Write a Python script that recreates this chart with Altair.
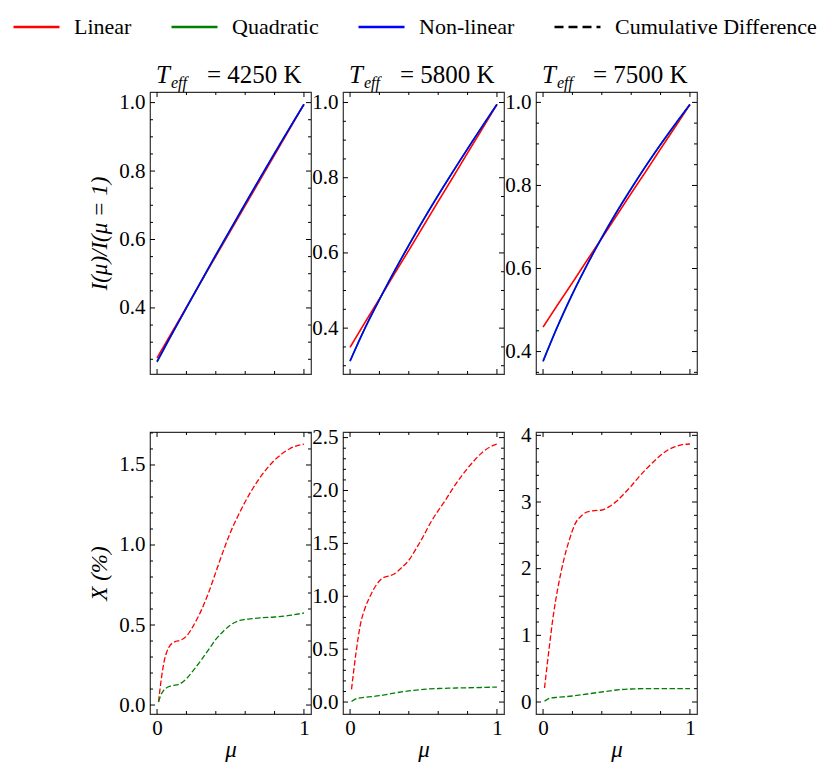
import altair as alt
import pandas as pd

FONT = "Liberation Serif"

SERIES = ["Linear", "Quadratic", "Non-linear", "Cumulative Difference"]
COLORS = ["#ff0000", "#008000", "#0000ff", "#000000"]
DASHES = [[1, 0], [1, 0], [1, 0], [9, 5]]
TEFF = ["4250", "5800", "7500"]

# ---- top row: normalised intensity profiles ----
MU_TOP = [0.0, 0.1, 0.2, 0.3, 0.4, 0.5, 0.6, 0.7, 0.8, 0.9, 1.0]
LIN_4250 = [0.254, 0.328, 0.402, 0.477, 0.551, 0.625, 0.699, 0.773, 0.847, 0.921, 0.995]
QUA_4250 = [0.242, 0.322, 0.400, 0.477, 0.554, 0.629, 0.704, 0.778, 0.852, 0.924, 0.995]
NL_4250 = [0.244, 0.323, 0.401, 0.478, 0.555, 0.630, 0.705, 0.779, 0.852, 0.924, 0.995]

LIN_5800 = [0.349, 0.414, 0.478, 0.543, 0.607, 0.672, 0.737, 0.801, 0.866, 0.930, 0.995]
QUA_5800 = [0.313, 0.398, 0.476, 0.550, 0.621, 0.689, 0.754, 0.816, 0.877, 0.936, 0.995]
NL_5800 = [0.312, 0.399, 0.476, 0.550, 0.620, 0.688, 0.753, 0.816, 0.877, 0.937, 0.995]

LIN_7500 = [0.459, 0.513, 0.566, 0.620, 0.673, 0.727, 0.781, 0.834, 0.888, 0.941, 0.995]
QUA_7500 = [0.378, 0.461, 0.538, 0.609, 0.675, 0.736, 0.793, 0.847, 0.898, 0.947, 0.995]
NL_7500 = [0.376, 0.462, 0.539, 0.609, 0.674, 0.735, 0.792, 0.847, 0.899, 0.948, 0.995]

# ---- bottom row: cumulative differences (%) ----
MU_CDL = [0.01, 0.03, 0.05, 0.08, 0.12, 0.16, 0.2, 0.25, 0.3, 0.35, 0.4, 0.45,
          0.5, 0.55, 0.6, 0.65, 0.7, 0.75, 0.8, 0.85, 0.9, 0.95, 1.0]
CDL_4250 = [0.02, 0.17, 0.28, 0.36, 0.395, 0.405, 0.43, 0.50, 0.59, 0.70, 0.83, 0.96,
            1.08, 1.18, 1.27, 1.35, 1.42, 1.48, 1.53, 1.57, 1.60, 1.62, 1.63]
MU_CDQ_4250 = [0.01, 0.03, 0.06, 0.1, 0.15, 0.2, 0.25, 0.3, 0.35, 0.4, 0.45, 0.5,
               0.55, 0.6, 0.65, 0.7, 0.8, 0.9, 1.0]
CDQ_4250 = [0.02, 0.07, 0.105, 0.12, 0.13, 0.165, 0.22, 0.28, 0.345, 0.41, 0.46, 0.50,
            0.525, 0.535, 0.54, 0.545, 0.55, 0.56, 0.575]

MU_CDL2 = [0.01, 0.04, 0.07, 0.1, 0.14, 0.18, 0.22, 0.26, 0.3, 0.35, 0.4, 0.45,
           0.5, 0.55, 0.6, 0.65, 0.7, 0.75, 0.8, 0.85, 0.9, 0.95, 1.0]
CDL_5800 = [0.12, 0.46, 0.73, 0.88, 1.01, 1.11, 1.17, 1.19, 1.21, 1.27, 1.34, 1.45,
            1.57, 1.70, 1.81, 1.91, 2.02, 2.12, 2.21, 2.29, 2.36, 2.41, 2.44]
CDL_7500 = [0.21, 0.78, 1.30, 1.70, 2.12, 2.44, 2.68, 2.79, 2.85, 2.87, 2.88, 2.93,
            3.01, 3.12, 3.24, 3.37, 3.49, 3.60, 3.70, 3.78, 3.83, 3.86, 3.87]
MU_CDQ = [0.01, 0.05, 0.1, 0.2, 0.3, 0.4, 0.5, 0.6, 0.7, 0.8, 0.9, 1.0]
CDQ_5800 = [0.005, 0.035, 0.045, 0.06, 0.085, 0.105, 0.12, 0.128, 0.132, 0.135, 0.138, 0.142]
CDQ_7500 = [0.01, 0.06, 0.07, 0.09, 0.12, 0.15, 0.18, 0.195, 0.2, 0.2, 0.2, 0.2]

# axis ticks
X_MAJOR = [0, 1]
X_MINOR = [0.2, 0.4, 0.6, 0.8]
TOP_Y_MAJOR = [0.4, 0.6, 0.8, 1.0]
TOP_Y_MINOR = [0.25, 0.3, 0.35, 0.45, 0.5, 0.55, 0.65, 0.7, 0.75, 0.85, 0.9, 0.95]
B1_Y_MAJOR = [0.0, 0.5, 1.0, 1.5]
B1_Y_MINOR = [0.1, 0.2, 0.3, 0.4, 0.6, 0.7, 0.8, 0.9, 1.1, 1.2, 1.3, 1.4, 1.6, 1.7]
B2_Y_MAJOR = [0.0, 0.5, 1.0, 1.5, 2.0, 2.5]
B2_Y_MINOR = [0.1, 0.2, 0.3, 0.4, 0.6, 0.7, 0.8, 0.9, 1.1, 1.2, 1.3, 1.4,
              1.6, 1.7, 1.8, 1.9, 2.1, 2.2, 2.3, 2.4]
B3_Y_MAJOR = [0, 1, 2, 3, 4]
B3_Y_MINOR = [0.2, 0.4, 0.6, 0.8, 1.2, 1.4, 1.6, 1.8, 2.2, 2.4, 2.6, 2.8, 3.2, 3.4, 3.6, 3.8]

X_DOMAIN = [-0.048, 1.048]
TOP_DOMAINS = [[0.207, 1.031], [0.278, 1.028], [0.346, 1.025]]
BOT_DOMAINS = [[-0.056, 1.706], [-0.113, 2.553], [-0.18, 4.05]]

W, H = 161, 282

LEGEND = alt.Legend(
    orient="none", legendX=-138, legendY=-76, direction="horizontal", title=None,
    symbolType="stroke", symbolSize=2116, symbolStrokeWidth=2.5, clipHeight=22,
    labelFont=FONT, labelFontSize=22, labelOffset=13, columnPadding=38,
    padding=0, labelLimit=400, labelColor="black",
)
COLOR = alt.Color("series:N", scale=alt.Scale(domain=SERIES, range=COLORS), legend=LEGEND)
DASH = alt.StrokeDash("series:N", scale=alt.Scale(domain=SERIES, range=DASHES), legend=LEGEND)

AX = dict(labelFont=FONT, labelFontSize=21, labelColor="black", ticks=False, tickSize=0,
          domain=False, grid=False, titleFont=FONT, titleFontSize=23,
          titleFontStyle="italic", titleFontWeight="normal", titleColor="black",
          labelFlush=False)


def inside(vals, dom):
    return [v for v in vals if dom[0] <= v <= dom[1]]


def tick_layers(xsc, ysc, xax, yax, ydom, ymaj, ymin):
    layers = []
    for vals, L in ((inside(ymaj, ydom), 5), (inside(ymin, ydom), 3)):
        c = alt.Chart(alt.Data(values=[{"val": v} for v in vals]))
        y = alt.Y("val:Q", scale=ysc, axis=yax)
        layers.append(c.mark_rule(color="black", strokeWidth=1).encode(
            y=y, x=alt.value(0), x2=alt.value(L)))
        layers.append(c.mark_rule(color="black", strokeWidth=1).encode(
            y=y, x=alt.value(W), x2=alt.value(W - L)))
    for vals, L in ((X_MAJOR, 5), (X_MINOR, 3)):
        c = alt.Chart(alt.Data(values=[{"mu": v} for v in vals]))
        x = alt.X("mu:Q", scale=xsc, axis=xax)
        layers.append(c.mark_rule(color="black", strokeWidth=1).encode(
            x=x, y=alt.value(H), y2=alt.value(H - L)))
        layers.append(c.mark_rule(color="black", strokeWidth=1).encode(
            x=x, y=alt.value(0), y2=alt.value(L)))
    return layers


def title_layers(teff):
    parts = [("T", 25, "italic", 6, -9), ("eff", 16, "italic", 21, -4),
             ("= " + teff + " K", 25, "normal", 57, -9)]
    out = []
    for txt, fs, st, px, py in parts:
        out.append(alt.Chart(alt.Data(values=[{"t": txt}])).mark_text(
            font=FONT, fontSize=fs, fontStyle=st, align="left", baseline="alphabetic",
            color="black").encode(x=alt.value(px), y=alt.value(py), text="t:N"))
    return out


def top_panel(i, lin, qua, nl):
    rows = []
    for name, vals in (("Linear", lin), ("Quadratic", qua), ("Non-linear", nl)):
        rows += [{"mu": m, "val": v, "series": name} for m, v in zip(MU_TOP, vals)]
    df = pd.DataFrame(rows)
    xsc = alt.Scale(domain=X_DOMAIN, nice=False, zero=False)
    ysc = alt.Scale(domain=TOP_DOMAINS[i], nice=False, zero=False)
    yax = alt.Axis(values=TOP_Y_MAJOR, format=".1f", labelPadding=5,
                   title="I(μ)/I(μ = 1)" if i == 0 else None, titlePadding=7, **AX)
    layers = []
    for s in ["Linear", "Quadratic", "Non-linear"]:
        layers.append(alt.Chart(df).transform_filter(alt.datum.series == s)
                      .mark_line(strokeWidth=1.6, interpolate="monotone")
                      .encode(x=alt.X("mu:Q", scale=xsc, axis=None),
                              y=alt.Y("val:Q", scale=ysc, axis=yax),
                              color=COLOR, strokeDash=DASH))
    layers += tick_layers(xsc, ysc, None, yax, TOP_DOMAINS[i], TOP_Y_MAJOR, TOP_Y_MINOR)
    layers += title_layers(TEFF[i])
    return alt.layer(*layers).properties(width=W, height=H)


def bot_panel(i, mul, cdl, muq, cdq, ymaj, ymin, fmt):
    rows = [{"mu": m, "val": v, "series": "Linear"} for m, v in zip(mul, cdl)]
    rows += [{"mu": m, "val": v, "series": "Quadratic"} for m, v in zip(muq, cdq)]
    df = pd.DataFrame(rows)
    xsc = alt.Scale(domain=X_DOMAIN, nice=False, zero=False)
    ysc = alt.Scale(domain=BOT_DOMAINS[i], nice=False, zero=False)
    yax = alt.Axis(values=ymaj, format=fmt, labelPadding=5,
                   title="X (%)" if i == 0 else None, titlePadding=7, **AX)
    xax = alt.Axis(values=X_MAJOR, format="d", labelPadding=3, title="μ", titlePadding=0, **AX)
    layers = []
    for s in ["Linear", "Quadratic"]:
        layers.append(alt.Chart(df).transform_filter(alt.datum.series == s)
                      .mark_line(strokeWidth=1.3, interpolate="monotone")
                      .encode(x=alt.X("mu:Q", scale=xsc, axis=xax),
                              y=alt.Y("val:Q", scale=ysc, axis=yax),
                              color=COLOR, strokeDash=alt.value([5.5, 2.4])))
    layers += tick_layers(xsc, ysc, xax, yax, BOT_DOMAINS[i], ymaj, ymin)
    return alt.layer(*layers).properties(width=W, height=H)


panels = [
    top_panel(0, LIN_4250, QUA_4250, NL_4250),
    top_panel(1, LIN_5800, QUA_5800, NL_5800),
    top_panel(2, LIN_7500, QUA_7500, NL_7500),
    bot_panel(0, MU_CDL, CDL_4250, MU_CDQ_4250, CDQ_4250, B1_Y_MAJOR, B1_Y_MINOR, ".1f"),
    bot_panel(1, MU_CDL2, CDL_5800, MU_CDQ, CDQ_5800, B2_Y_MAJOR, B2_Y_MINOR, ".1f"),
    bot_panel(2, MU_CDL2, CDL_7500, MU_CDQ, CDQ_7500, B3_Y_MAJOR, B3_Y_MINOR, "d"),
]

chart = alt.concat(*panels, columns=3, spacing={"row": 58, "column": 32}, bounds="flush") \
    .resolve_scale(x="independent", y="independent") \
    .properties(padding={"left": 4, "top": 8, "right": 0, "bottom": 0}) \
    .configure(font=FONT) \
    .configure_view(stroke="#333333", strokeWidth=1.2)

chart.save("out.html", embed_options={"renderer": "svg", "actions": False})
